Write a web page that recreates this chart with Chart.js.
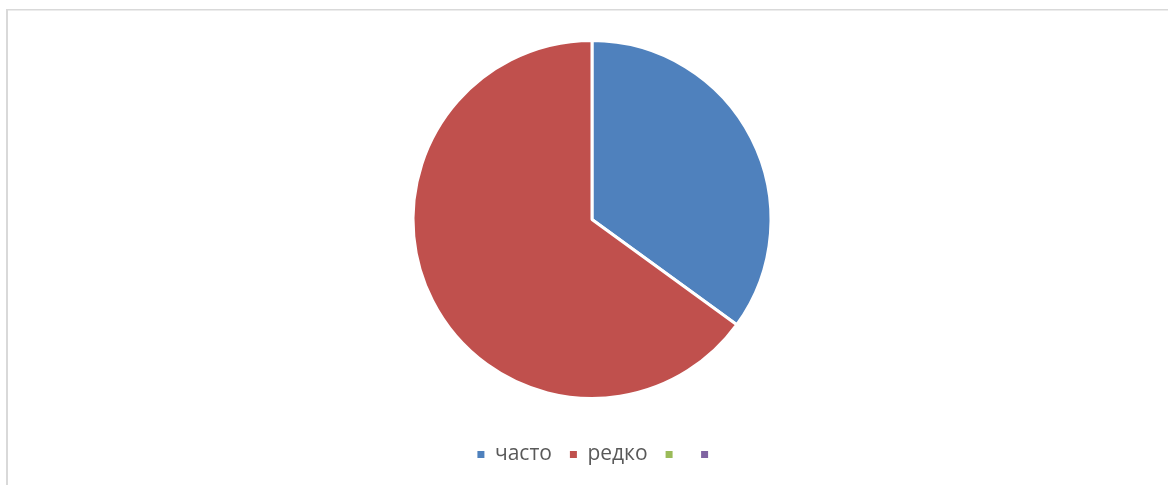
<!DOCTYPE html>
<html>
<head>
<meta charset="utf-8">
<script src="https://cdn.jsdelivr.net/npm/chart.js@4/dist/chart.umd.min.js"></script>
<style>
  html, body { margin: 0; padding: 0; background: #ffffff; }
  #wrap { position: relative; width: 1168px; height: 485px; }
</style>
</head>
<body>
<div id="wrap"><canvas id="chart"></canvas></div>
<script>
// Answer categories and their shares
const categories = ['часто', 'редко', '', ''];
const shares = [35, 65, 0, 0];
const sliceColors = ['#4F81BD', '#C0504D', '#9BBB59', '#8064A2'];

// Light frame around the chart area
const framePlugin = {
  id: 'frame',
  beforeDraw(chart) {
    const ctx = chart.ctx;
    ctx.save();
    ctx.fillStyle = '#d9d9d9';
    ctx.fillRect(6, 9, 2, chart.height - 9);
    ctx.fillRect(6, 9, chart.width - 6, 1.5);
    ctx.restore();
  }
};

// Empty labels still reserve text space, so nudge the legend row to sit centred under the pie
const legendNudge = {
  id: 'legendNudge',
  afterLayout(chart) {
    const lg = chart.legend;
    if (!lg) return;
    lg.left += 6; lg.right += 6;
    lg.top += 2; lg.bottom += 2;
  }
};

const baseLabels = Chart.overrides.pie.plugins.legend.labels.generateLabels;

new Chart(document.getElementById('chart'), {
  type: 'pie',
  data: {
    labels: categories,
    datasets: [{
      data: shares,
      backgroundColor: sliceColors,
      borderColor: '#ffffff',
      borderWidth: 3
    }]
  },
  options: {
    responsive: true,
    maintainAspectRatio: false,
    animation: false,
    layout: { padding: { top: 39, left: 16, right: 0, bottom: 12 } },
    plugins: {
      tooltip: { enabled: false },
      legend: {
        position: 'bottom',
        title: { display: true, text: '', font: { size: 10 }, padding: { top: 12, bottom: 0 } },
        labels: {
          boxWidth: 7,
          boxHeight: 7,
          padding: 18,
          color: '#595959',
          font: { family: '"Open Sans", "Liberation Sans", sans-serif', size: 21 },
          generateLabels(chart) {
            return baseLabels(chart).map(item => Object.assign(item, { lineWidth: 0, strokeStyle: 'rgba(0,0,0,0)' }));
          }
        }
      }
    }
  },
  plugins: [framePlugin, legendNudge]
});
</script>
</body>
</html>
